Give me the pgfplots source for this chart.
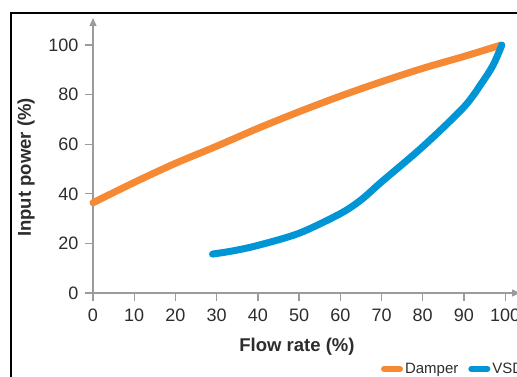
\documentclass[border=0pt]{standalone}
\usepackage{pgfplots}
\pgfplotsset{compat=1.18}
\usetikzlibrary{arrows.meta}
\usepackage{fontspec}
\setmainfont{Liberation Sans}
\definecolor{dorange}{RGB}{245,137,52}
\definecolor{vblue}{RGB}{0,150,214}
\definecolor{axgray}{RGB}{155,155,155}
\definecolor{txt}{RGB}{45,45,45}
\begin{document}
\begin{tikzpicture}[x=1pt,y=1pt]
\clip (0,0) rectangle (517,376);
\fill[white] (0,0) rectangle (517,376);
\draw[line width=1.6pt] (11,-5) -- (11,363) -- (525,363);
\begin{axis}[
  at={(93pt,83pt)}, anchor=origin,
  width=427pt, height=275pt, scale only axis,
  xmin=0, xmax=103.6, ymin=0, ymax=110.9,
  axis lines=left,
  axis line style={axgray, line width=1.3pt, -{Triangle[length=8pt,width=7pt]}},
  xtick={0,10,...,100}, ytick={0,20,...,100},
  tick align=outside, major tick length=8pt,
  tick style={axgray, line width=1.3pt},
  ticklabel style={font=\fontsize{18}{20}\selectfont, text=txt},
  xticklabel style={yshift=-4pt},
  yticklabel style={xshift=-3pt},
  /pgf/number format/assume math mode=true,
  clip=false,
  legend style={at={(0.667,-0.276)}, anchor=west, draw=none, fill=none,
    legend columns=2, font=\fontsize{15}{16}\selectfont, text=txt,
    /tikz/every even column/.append style={column sep=8pt}},
  legend image code/.code={\draw[#1, line width=6pt, line cap=round] (3pt,0pt) -- (19pt,0pt);},
]
\addplot[dorange, line width=7pt, line cap=round, smooth] coordinates {
(0,36.4) (10,44.6) (20,52.3) (30,59.2) (40,66.4) (50,73.1) (60,79.4) (70,85.2) (80,90.6) (90,95.4) (99,100)};
\addlegendentry{Damper}
\addplot[vblue, line width=7pt, line cap=round, smooth] coordinates {
(29,15.7) (34,17) (40,19.2) (50,24.1) (60,32) (65,37.5) (70,44.8) (80,59) (90,75) (94.7,85.6) (97.2,92.3) (99.2,100)};
\addlegendentry{VSD}
\end{axis}
\node[anchor=base, font=\fontsize{18.5}{20}\selectfont\bfseries, text=txt] at (297,25) {Flow rate (\%)};
\node[anchor=base, rotate=90, font=\fontsize{18.5}{20}\selectfont\bfseries, text=txt] at (31,208.5) {Input power (\%)};
\end{tikzpicture}
\end{document}
